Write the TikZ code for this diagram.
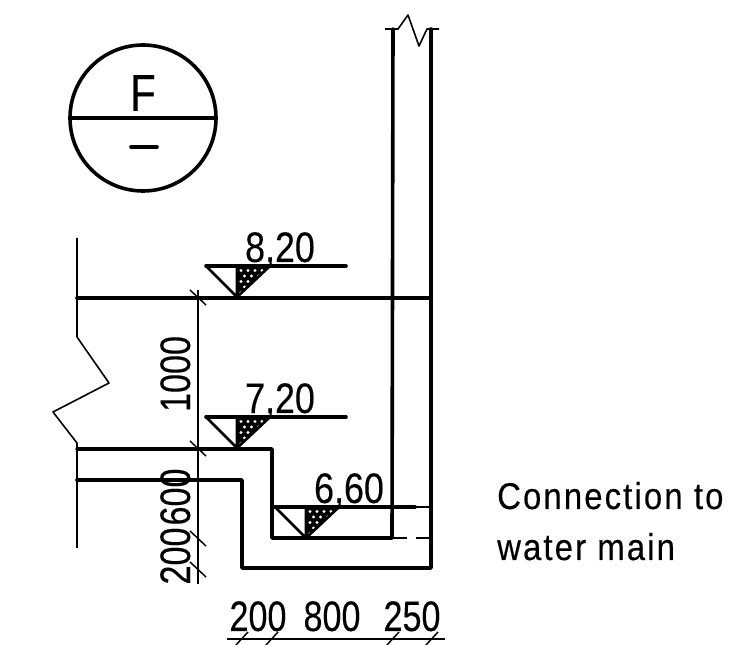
\documentclass[tikz,border=0pt]{standalone}
\usepackage{fontspec}
\setmainfont[FakeBold=0.3]{Liberation Sans}
\newfontfamily\wideface[LetterSpace=6.5,FakeBold=0.3]{Liberation Sans}
\tikzset{
  thick line/.style={line width=2.7pt,line cap=round,line join=round},
  thin line/.style={line width=1.2pt},
  dimtick/.style={line width=1.1pt},
  dimtext/.style={inner sep=0pt,font=\fontsize{32}{32}\selectfont,xscale=.8},
  leveltext/.style={inner sep=0pt,font=\fontsize{32}{32}\selectfont,xscale=.84},
  labeltext/.style={inner sep=0pt,anchor=base west,xscale=.88,font=\wideface\fontsize{28}{28}\selectfont}
}
\newcommand{\levelsym}[4]{% x of left, y of top, x of line end, label
  \begin{scope}[shift={(#1,#2)}]
    \fill[black] (31,0) -- (64,0) -- (31,31) -- cycle;
    \begin{scope}
      \clip (31,0) -- (64,0) -- (31,31) -- cycle;
      \foreach \r in {0,1,2,3,4}{
        \foreach \c in {0,1,2,3,4,5}{
          \fill[white] ({35+\c*7+mod(\r,2)*3.5},{4.5+\r*5.5}) circle (1.7);
        }
      }
    \end{scope}
    \draw[line width=2pt,line join=round] (0,0) -- (31,31) -- (31,0);
    \draw[line width=2pt] (31,31) -- (64,0);
    \draw[thick line] (0,0) -- (#3,0);
    \node[leveltext,anchor=base] at (74,-4) {#4};
  \end{scope}
}
\begin{document}
\begin{tikzpicture}[x=.75pt,y=-.75pt]
\useasboundingbox (0,0) rectangle (733,645);
% section marker
\draw[thick line] (143,118) circle (73);
\draw[thick line] (70,118) -- (216,118);
\node[inner sep=0pt,font=\fontsize{39}{39}\selectfont,xscale=.8] (sectionF) at (143,93) {F};
\draw[thick line] (131,147) -- (157,147);
% chamber walls
\draw[thick line] (393,29) -- (392,538) -- (272,538) -- (272,449) -- (77,449);
\draw[thick line] (431,29) -- (431,568) -- (242,568) -- (242,480) -- (77,480);
\draw[thick line] (77,298) -- (431,298);
\draw[thin line,line join=round] (385,29) -- (398,29) -- (408,15) -- (419,46) -- (427,29) -- (439,29);
\draw[thin line] (392,538) -- (407,538) (416,538) -- (431,538);
\draw[thin line] (415,507) -- (431,507);
% left break line
\draw[thin line,line join=round] (77,238) -- (77,337) -- (109,383) -- (53,412) -- (77,443) -- (77,548);
% levels
\levelsym{206}{266}{140}{8,20}
\levelsym{206}{417}{140}{7,20}
\levelsym{275}{507}{140}{6,60}
% vertical dimension
\draw[dimtick] (198,290) -- (198,584);
\foreach \yy in {298,449,539,570}{
  \draw[dimtick] (190,\yy-8) -- (206,\yy+7);
}
\node[rotate=90,dimtext,anchor=base] (d1000) at (190,374) {1000};
\node[rotate=90,dimtext,anchor=base] (d600) at (190,497) {600};
\node[rotate=90,dimtext,anchor=base] (d200) at (190,556) {200};
% horizontal dimension
\draw[dimtick] (227,639) -- (445,639);
\foreach \xx in {242,272,393,432}{
  \draw[dimtick] (\xx+6,632) -- (\xx-6,645);
}
\node[dimtext,anchor=base] (w200) at (258,631) {200};
\node[dimtext,anchor=base] (w800) at (332,631) {800};
\node[dimtext,anchor=base] (w250) at (412,631) {250};
% label
\node[labeltext] (lab1) at (497,509) {Connection to};
\node[labeltext] (lab2) at (497,560) {water main};
\end{tikzpicture}
\end{document}
